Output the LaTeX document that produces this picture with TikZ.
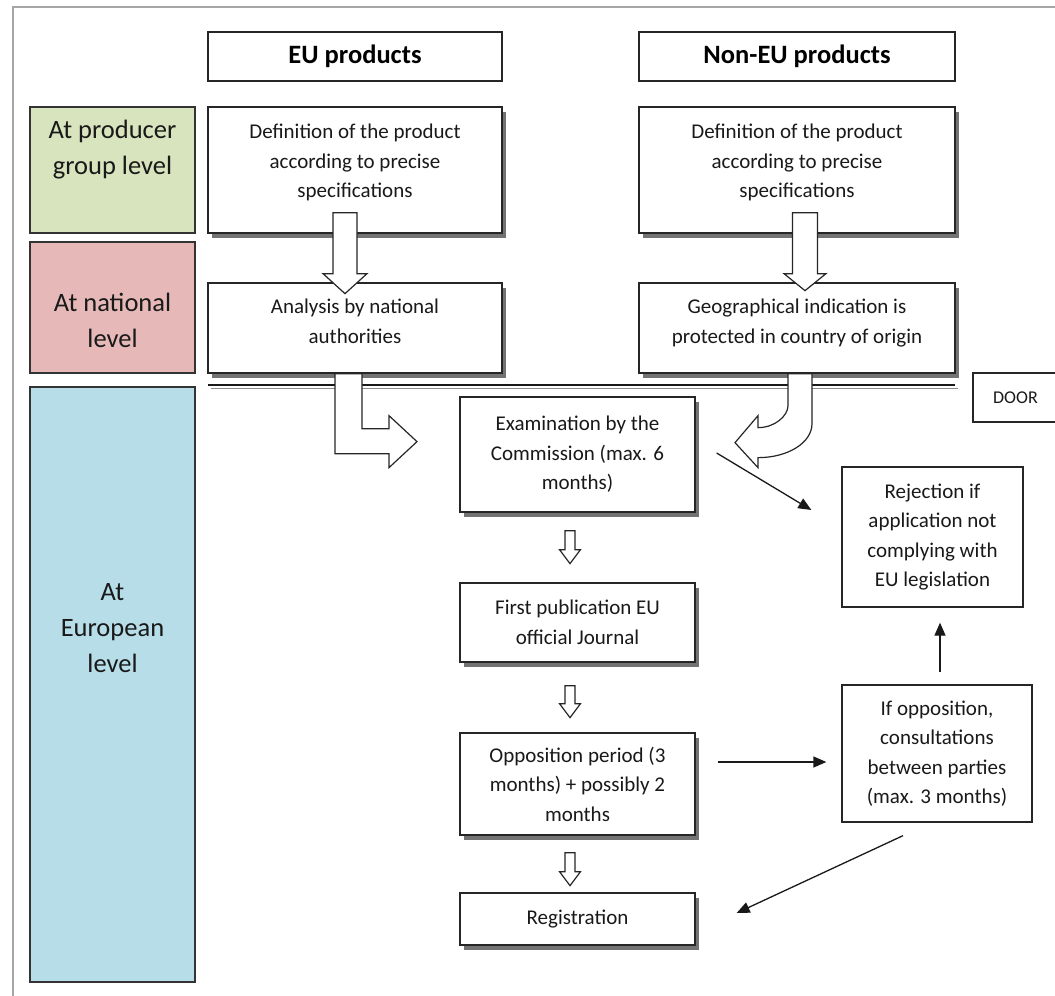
\documentclass[tikz,border=0pt]{standalone}
\usepackage{fontspec}
\setmainfont{Carlito}
\usepackage{tikz}
\usetikzlibrary{arrows.meta}
\usetikzlibrary{shadows}
\definecolor{lvlgreen}{RGB}{215,228,189}
\definecolor{lvlred}{RGB}{230,185,184}
\definecolor{lvlblue}{RGB}{183,222,232}
\newcommand\bodyfont{\fontsize{21}{29.5}\selectfont}
\newcommand\lvlfont{\fontsize{26.5}{36}\selectfont}
% hollow block arrow pointing down: start, shaft half width, head half width, shaft length, head length
\newcommand\fatdown[5]{%
  \draw[fat] (#1) ++(-#2,0) -- ++(0,#4) -- ++(#2-#3,0) -- ++(#3,#5) -- ++(#3,-#5) -- ++(#2-#3,0) -- ++(0,-#4) -- cycle;}
\tikzstyle{plainbox}=[draw=black!85,line width=1.3pt,align=center,inner sep=0pt,font=\bodyfont,text=black!90]
\tikzstyle{stagebox}=[plainbox,fill=white,drop shadow={shadow xshift=4pt,shadow yshift=-5pt,fill=black!55,opacity=1}]
\tikzstyle{lvlbox}=[plainbox,draw=black!80]
\tikzstyle{lvltext}=[align=center,font=\lvlfont,text=black!90]
\tikzstyle{hdrbox}=[plainbox,font=\lvlfont\bfseries,text=black]
\tikzstyle{fat}=[draw=black!85,line width=1.2pt,fill=white,line join=miter]
\tikzstyle{arr}=[line width=1.3pt,draw=black!90,-{Triangle[length=13pt,width=11pt]}]

\begin{document}
\begin{tikzpicture}[x=1pt,y=-1pt]
	\useasboundingbox (0,0) rectangle (1055,996);
	\draw[black!35,line width=1.5pt] (13,996) -- (13,7) -- (1060,7);
	% levels
	\node[lvlbox,fill=lvlgreen,minimum width=165,minimum height=126] (grp) at (112.5,170) {};
	\node[lvlbox,fill=lvlred,minimum width=165,minimum height=131] (nat) at (112.5,307.5) {};
	\node[lvlbox,fill=lvlblue,minimum width=165,minimum height=595] (eur) at (112.5,684.5) {};
	\node[lvltext] (grptxt) at (112.5,150) {At producer\\group level};
	\node[lvltext] (nattxt) at (112.5,320.5) {At national\\level};
	\node[lvltext] (eurtxt) at (112.5,628) {At\\European\\level};
	% columns
	\node[hdrbox,minimum width=294,minimum height=49] (euhdr) at (355,56.5) {EU products};
	\node[hdrbox,minimum width=316,minimum height=49] (nonhdr) at (797,56.5) {Non-EU products};
	\node[stagebox,minimum width=294,minimum height=126] (eudef) at (355,170)
		{Definition of the product\\according to precise\\specifications\\[-11.5pt]};
	\node[stagebox,minimum width=294,minimum height=90] (euana) at (355,328)
		{Analysis by national\\authorities\\[-15.5pt]};
	\node[stagebox,minimum width=316,minimum height=126] (nondef) at (797,170)
		{Definition of the product\\according to precise\\specifications\\[-11.5pt]};
	\node[stagebox,minimum width=316,minimum height=90] (geo) at (797,328)
		{Geographical indication is\\protected in country of origin\\[-15.5pt]};
	\node[plainbox,minimum width=90,minimum height=49,font=\fontsize{18}{22}\selectfont] (door) at (1018,397.5) {DOOR\hspace{5pt}};
	% european procedure
	\node[stagebox,minimum width=235,minimum height=115] (exam) at (577.5,454.5)
		{Examination by the\\Commission (max. 6\\months)};
	\node[stagebox,minimum width=235,minimum height=79] (pub) at (577.5,622.5)
		{First publication EU\\official Journal};
	\node[stagebox,minimum width=235,minimum height=102] (opp) at (577.5,784)
		{Opposition period (3\\months) + possibly 2\\months};
	\node[stagebox,minimum width=235,minimum height=52] (reg) at (577.5,919) {Registration};
	\node[plainbox,minimum width=181,minimum height=140] (rej) at (932.5,537)
		{Rejection if\\application not\\complying with\\EU legislation};
	\node[plainbox,minimum width=190,minimum height=137] (cons) at (937,753.5)
		{If opposition,\\consultations\\between parties\\(max. 3 months)};
	% divider
	\draw[black!45,line width=1.3pt] (211,388.5) -- (958,388.5);
	\draw[black!90,line width=1.3pt] (208,385) -- (955,385);
	% block arrows
	\fatdown{[xshift=-10pt,yshift=21pt]eudef.south}{12}{22}{61}{20}
	\fatdown{[xshift=8pt,yshift=21pt]nondef.south}{12.5}{21}{61}{17}
	\begin{scope}[shift={(euana.south)}]
		\draw[fat] (-20,0) -- (-20,80) -- (34,80) -- (34,94) -- (62,68) -- (34,42) -- (34,55) -- (7,55) -- (7,0) -- cycle;
	\end{scope}
	\begin{scope}[shift={(geo.south)}]
		\draw[fat] (-9,0) -- (-9,32) .. controls (-9,42) and (-22,54) .. (-39,54) -- (-39,42) -- (-62,69)
			-- (-39,94) -- (-39,84) .. controls (-9,84) and (15,69) .. (15,50) -- (15,0) -- cycle;
	\end{scope}
	\fatdown{[xshift=-7.5pt,yshift=-18pt]exam.south}{5}{10.5}{19}{14}
	\fatdown{[xshift=-7.5pt,yshift=-23pt]pub.south}{5}{10.5}{18}{14}
	\fatdown{[xshift=-7.5pt,yshift=-17pt]opp.south}{5}{10.5}{19}{14}
	% thin arrows
	\draw[arr] ([xshift=21pt,yshift=1.5pt]exam.east) -- ([xshift=-30pt,yshift=27pt]rej.west);
	\draw[arr] ([xshift=22pt,yshift=22pt]opp.east) -- ([xshift=-15pt,yshift=-8.5pt]cons.west);
	\draw[arr] ([xshift=3pt,yshift=12pt]cons.north) -- ([xshift=7.5pt,yshift=-15pt]rej.south);
	\draw[arr] ([xshift=-34pt,yshift=-13pt]cons.south) -- ([xshift=41pt,yshift=6pt]reg.east);
\end{tikzpicture}
\end{document}
